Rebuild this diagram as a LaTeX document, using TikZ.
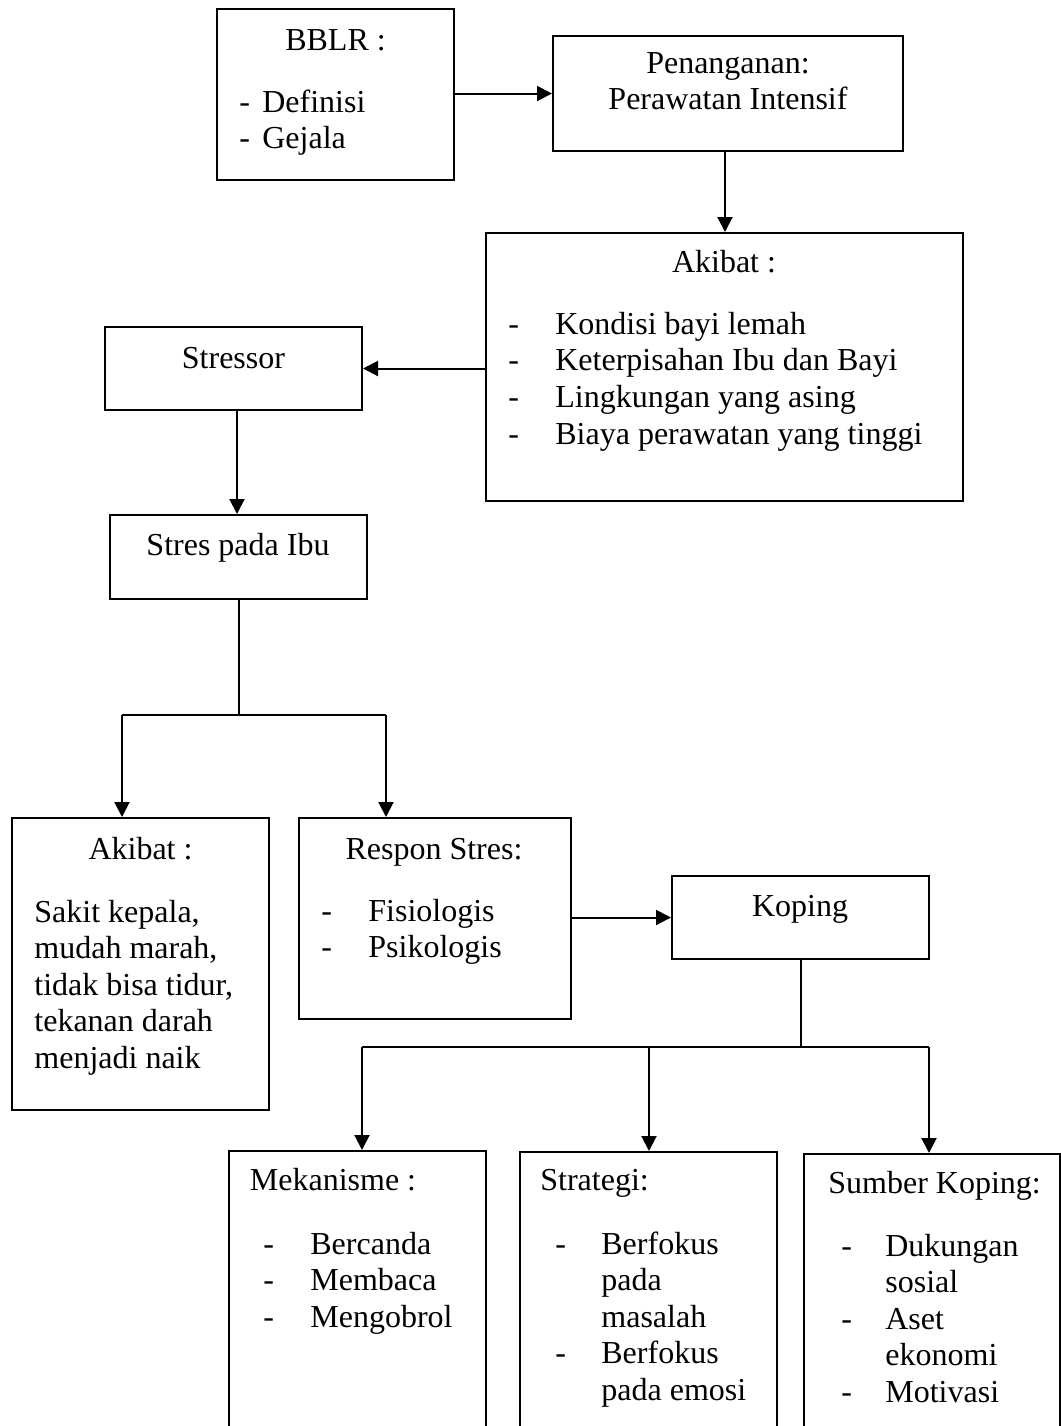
\documentclass[tikz,border=0pt]{standalone}
\usepackage{fontspec}
\setmainfont{Liberation Serif}
\usetikzlibrary{arrows.meta}
\tikzset{
    box/.style 2 args={ % plain frame, width and height in pixels
        draw,
        line width=1pt,
        inner sep=0pt,
        minimum width=#1*0.5pt,
        minimum height=#2*0.5pt
    },
    txt/.style={ % text set inside the frames
        inner sep=0pt,
        align=left,
        font=\fontsize{16pt}{18.3pt}\selectfont
    },
    wire/.style={ % plain connector
        draw,
        line width=1pt
    },
    link/.style={ % connector with a filled head
        wire,
        -{Triangle[length=7.5pt,width=7.5pt]}
    }
}
% one item of a list: dash, then the text
\newcommand{\itm}[2][23.5pt]{\makebox[#1][l]{-}#2}
\newcommand{\cnt}[2][23.5pt]{\hspace*{#1}#2}

\begin{document}
\begin{tikzpicture}[x=0.5pt, y=-0.5pt]
    \useasboundingbox (0,0) rectangle (1061,1426);
    \clip (0,0) rectangle (1061,1426);

    % frames
    \node[box={237}{171}] (bblr)       at (335.5,94.5) {};
    \node[box={350}{115}] (penanganan) at (728,93.5)   {};
    \node[box={477}{268}] (akibat)     at (724.5,367)  {};
    \node[box={257}{83}]  (stressor)   at (233.5,368.5){};
    \node[box={257}{84}]  (stres)      at (238.5,557)  {};
    \node[box={257}{292}] (dampak)     at (140.5,964)  {};
    \node[box={272}{201}] (respon)     at (435,918.5)  {};
    \node[box={257}{83}]  (koping)     at (800.5,917.5){};
    \node[box={257}{340}] (mekanisme)  at (357.5,1321) {};
    \node[box={257}{340}] (strategi)   at (648.5,1322) {};
    \node[box={256}{340}] (sumber)     at (931.5,1324) {};

    % texts (multi-line ones sit on their last baseline)
    \node[txt, anchor=base] (bblr-t) at (335.5,50) {BBLR :};
    \node[txt, anchor=base west] (bblr-l) at (239,148.6)
        {\itm[11.5pt]{Definisi}\\\itm[11.5pt]{Gejala}};
    \node[txt, anchor=base, align=center] (penanganan-t) at (728,109.6)
        {Penanganan:\\Perawatan Intensif};
    \node[txt, anchor=base] (akibat-t) at (724,272) {Akibat :};
    \node[txt, anchor=base west] (akibat-l) at (508,444)
        {\itm{Kondisi bayi lemah}\\\itm{Keterpisahan Ibu dan Bayi}\\
         \itm{Lingkungan yang asing}\\\itm{Biaya perawatan yang tinggi}};
    \node[txt, anchor=base] (stressor-t) at (233.5,368) {Stressor};
    \node[txt, anchor=base] (stres-t) at (238,555) {Stres pada Ibu};
    \node[txt, anchor=base] (dampak-t) at (140.5,859) {Akibat :};
    \node[txt, anchor=base west] (dampak-l) at (34,1068.4)
        {Sakit kepala,\\mudah marah,\\tidak bisa tidur,\\tekanan darah\\menjadi naik};
    \node[txt, anchor=base] (respon-t) at (434,859) {Respon Stres:};
    \node[txt, anchor=base west] (respon-l) at (321,957.6)
        {\itm{Fisiologis}\\\itm{Psikologis}};
    \node[txt, anchor=base] (koping-t) at (800,916) {Koping};
    \node[txt, anchor=base west] (mekanisme-t) at (249.5,1190) {Mekanisme :};
    \node[txt, anchor=base west] (mekanisme-l) at (263,1327.2)
        {\itm{Bercanda}\\\itm{Membaca}\\\itm{Mengobrol}};
    \node[txt, anchor=base west] (strategi-t) at (540,1190) {Strategi:};
    \node[txt, anchor=base west] (strategi-l) at (555,1400.4)
        {\itm[23pt]{Berfokus}\\\cnt[23pt]{pada}\\\cnt[23pt]{masalah}\\
         \itm[23pt]{Berfokus}\\\cnt[23pt]{pada emosi}};
    \node[txt, anchor=base west] (sumber-t) at (828,1193) {Sumber Koping:};
    \node[txt, anchor=base west] (sumber-l) at (841,1402.4)
        {\itm[22pt]{Dukungan}\\\cnt[22pt]{sosial}\\\itm[22pt]{Aset}\\
         \cnt[22pt]{ekonomi}\\\itm[22pt]{Motivasi}};

    % branch points
    \coordinate (forkA1) at (122,715);
    \coordinate (forkA2) at (386,715);
    \coordinate (forkB1) at (362,1047);
    \coordinate (forkB2) at (649,1047);
    \coordinate (forkB3) at (929,1047);

    % connectors
    \draw[link] (bblr.east |- penanganan.west) -- (penanganan.west);
    \draw[link] ([xshift=-1.5pt]penanganan.south) -- ([xshift=-1.5pt]penanganan.south |- akibat.north);
    \draw[link] (akibat.west |- stressor.east) -- (stressor.east);
    \draw[link] ([xshift=1.75pt]stressor.south) -- ([xshift=1.75pt]stressor.south |- stres.north);
    \draw[wire] (stres.south) -- (stres.south |- forkA1);
    \draw[wire] (forkA1) -- (forkA2);
    \draw[link] (forkA1) -- (forkA1 |- dampak.north);
    \draw[link] (forkA2) -- (forkA2 |- respon.north);
    \draw[link] (respon.east |- koping.west) -- (koping.west);
    \draw[wire] (koping.south) -- (koping.south |- forkB1);
    \draw[wire] (forkB1) -- (forkB3);
    \draw[link] (forkB1) -- (forkB1 |- mekanisme.north);
    \draw[link] (forkB2) -- (forkB2 |- strategi.north);
    \draw[link] (forkB3) -- (forkB3 |- sumber.north);
\end{tikzpicture}
\end{document}
